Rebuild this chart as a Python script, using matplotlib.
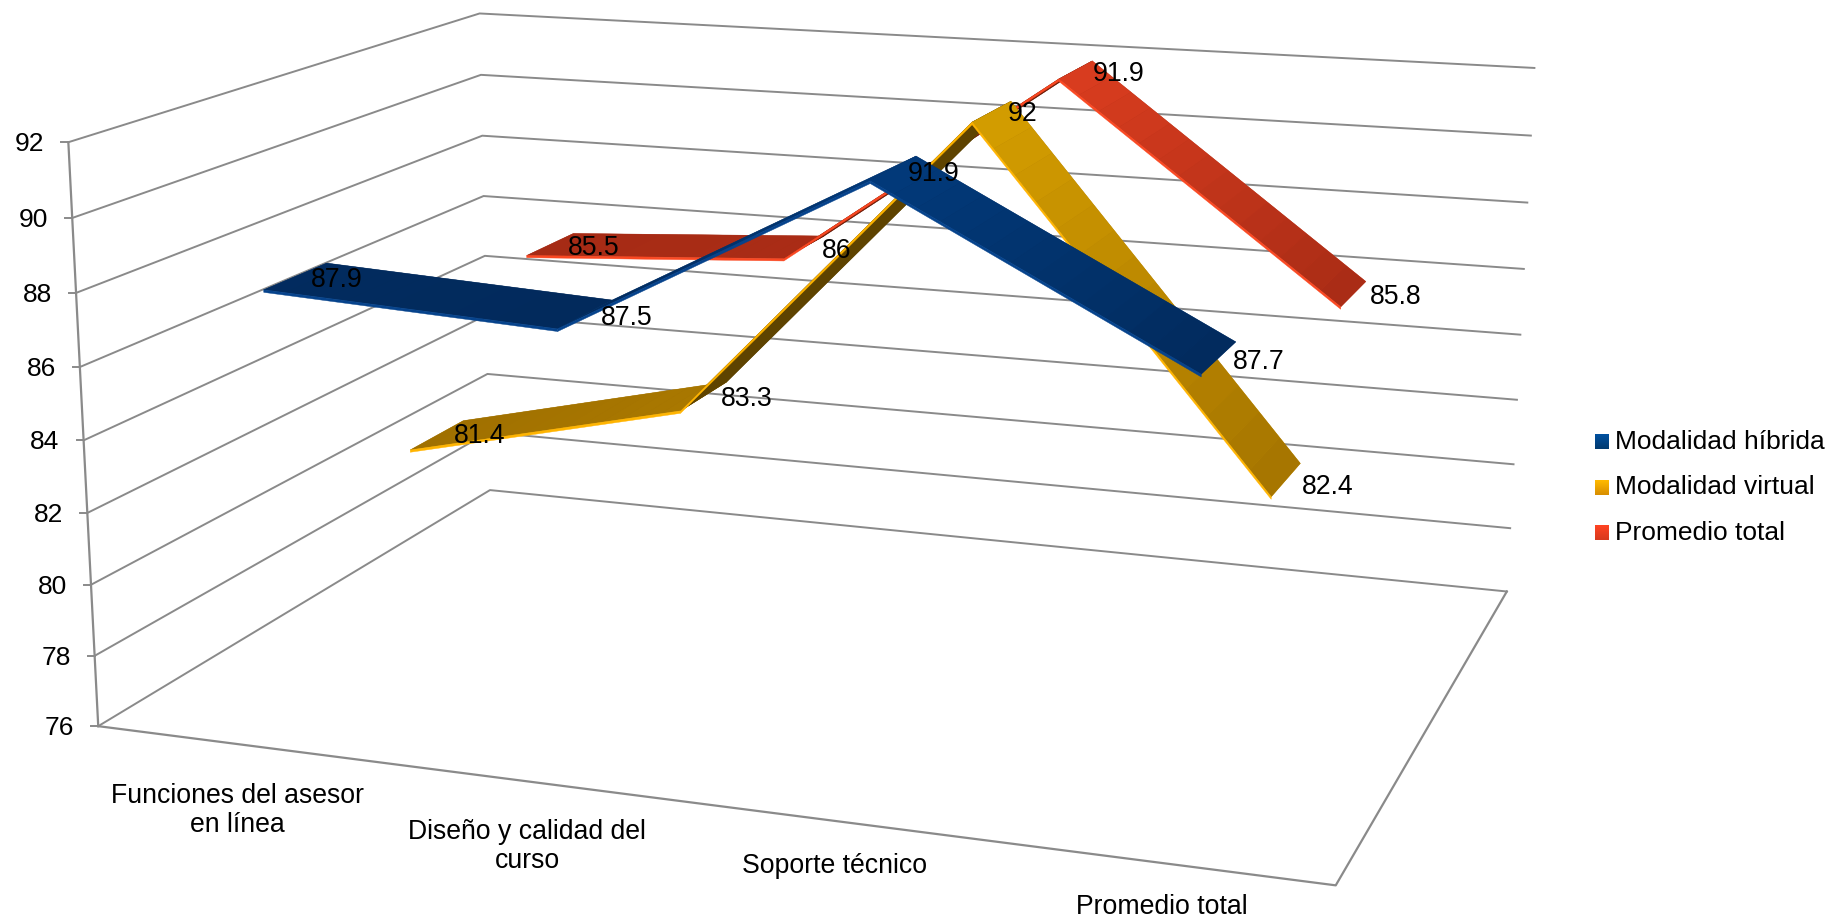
import numpy as np
import matplotlib
matplotlib.use("Agg")
import matplotlib.pyplot as plt
from matplotlib.collections import PolyCollection
from matplotlib.colors import LinearSegmentedColormap, to_rgb

plt.rcParams['font.family'] = ['Liberation Sans', 'DejaVu Sans']

categories = ["Funciones del asesor\nen línea", "Diseño y calidad del\ncurso", "Soporte técnico", "Promedio total"]
series_names = ["Modalidad híbrida", "Modalidad virtual", "Promedio total"]
hibrida = [87.9, 87.5, 91.9, 87.7]
virtual = [81.4, 83.3, 92, 82.4]
promedio = [85.5, 86, 91.9, 85.8]
y_ticks = [76, 78, 80, 82, 84, 86, 88, 90, 92]

# colours: low end and high end of the top face, front edge, underside
blue = ("#022a5c", "#023a7a", "#06438c", "#001f45")
yellow = ("#a07000", "#d49d00", "#ffb400", "#5e4300")
red = ("#a62b15", "#da3d1f", "#fa4822", "#6e1c08")
GRID = "#8a8a8a"
ymin, ymax = y_ticks[0], y_ticks[-1]

# box corners in pixels, used to fit the 3d camera
corner_world = [(0,0,0),(0,0,1),(0,1,0),(0,1,1),(1,1,0),(1,1,1),(1,0,0)]
corner_px = [(99,726),(67.3,142.7),(489,490),(480.8,13.3),(1507,592),(1534,67.7),(1336,885)]

def fit_camera():
    rows, rhs = [], []
    for (X,Y,Z),(u,v) in zip(corner_world, corner_px):
        rows.append([X,Y,Z,1,0,0,0,0,-u*X,-u*Y,-u*Z]); rhs.append(u)
        rows.append([0,0,0,0,X,Y,Z,1,-v*X,-v*Y,-v*Z]); rhs.append(v)
    p = np.linalg.lstsq(np.array(rows,float), np.array(rhs,float), rcond=None)[0]
    return np.append(p,1).reshape(3,4)

P = fit_camera()

def project(cat, depth, value):
    # cat in category units (0.5 = middle of first slot), depth 0..1, value on the y scale
    q = P @ np.array([cat/len(categories), depth, (value-ymin)/(ymax-ymin), 1.0])
    return q[0]/q[2], q[1]/q[2]

fig = plt.figure(figsize=(18.29,9.18), dpi=100)
ax = fig.add_axes([0,0,1,1])

# walls and floor
ncat = len(categories)
for t in y_ticks:
    wall = [project(0,0,t), project(0,1,t), project(ncat,1,t)]
    ax.plot(*zip(*wall), color=GRID, lw=1.4, zorder=1)
    x0, y0 = project(0,0,t)
    ax.plot([x0-7,x0], [y0,y0], color=GRID, lw=1.4, zorder=1)
    ax.text(x0-24, y0+2, str(t), ha='right', va='center', fontsize=19, zorder=50)
ax.plot(*zip(project(0,0,ymin), project(0,0,ymax)), color=GRID, lw=1.6, zorder=1)
floor = [project(0,0,ymin), project(ncat,0,ymin), project(ncat,1,ymin)]
ax.plot(*zip(*floor), color=GRID, lw=1.6, zorder=1)

# ribbons, back series first so the front ones paint over them
halfwidth = 0.0715
edge = 0.07
slices = 14
z = 2

def mix(c0, c1, t):
    a, b = np.array(to_rgb(c0)), np.array(to_rgb(c1))
    return tuple(a + (b-a)*t)

def draw_ribbon(values, slot, colors):
    global z
    low, high, front, under = colors
    cen = (slot+0.5)/3
    d0, d1 = cen-halfwidth, cen+halfwidth
    vmin, vmax = min(values), max(values)
    for i in range(len(values)-1):
        v0, v1 = values[i], values[i+1]
        c0, c1 = i+0.5, i+1.5
        a = np.array(project(c0,d0,v0)); b = np.array(project(c1,d0,v1)); c = np.array(project(c0,d1,v0))
        flipped = (b-a)[0]*(c-a)[1] - (b-a)[1]*(c-a)[0] > 0
        polys, cols = [], []
        ss = np.linspace(0, 1, slices+1)
        for s0, s1 in zip(ss[:-1], ss[1:]):
            va, vb = v0+(v1-v0)*s0, v0+(v1-v0)*s1
            ca, cb = c0+(c1-c0)*s0, c0+(c1-c0)*s1
            polys.append([project(ca,d0,va), project(cb,d0,vb), project(cb,d1,vb), project(ca,d1,va)])
            if flipped:
                cols.append(to_rgb(under))
            else:
                cols.append(mix(low, high, ((va+vb)/2-vmin)/(vmax-vmin)))
        # one whole quad underneath so the slice joins do not show
        whole = [project(c0,d0,v0), project(c1,d0,v1), project(c1,d1,v1), project(c0,d1,v0)]
        ax.fill(*zip(*whole), color=cols[len(cols)//2], lw=0.3, zorder=z)
        z += 1
        ax.add_collection(PolyCollection(polys, facecolors=cols, edgecolors='none', zorder=z))
        z += 1
        strip = [project(c0,d0,v0), project(c1,d0,v1), project(c1,d0,v1-edge), project(c0,d0,v0-edge)]
        ax.fill(*zip(*strip), color=front, lw=0.3, zorder=z)
        z += 1

draw_ribbon(promedio, 2, red)
draw_ribbon(virtual, 1, yellow)
draw_ribbon(hibrida, 0, blue)

# data labels sit just past the back corner of each point
nudge_hibrida = [(10,17), (15,18), (18,17.5), (23,20.5)]
nudge_virtual = [(16,15), (20,17.5), (12,13), (27.5,24)]
nudge_promedio = [(20,15), (13,15), (26.5,13), (29.5,15)]
for values, slot, nudges in [(hibrida,0,nudge_hibrida), (virtual,1,nudge_virtual), (promedio,2,nudge_promedio)]:
    for i, v in enumerate(values):
        x, y = project(i+0.5, (slot+0.5)/3+halfwidth, v)
        ax.text(x+nudges[i][0], y+nudges[i][1], str(v), ha='center', va='center', fontsize=19.2, zorder=50)

# category labels under the front edge
cat_nudge = [(0,66), (0,65), (-1,45), (-2,44)]
for i, name in enumerate(categories):
    x, y = project(i+0.5, 0, ymin)
    ax.text(x+cat_nudge[i][0], y+cat_nudge[i][1], name, ha='center', va='center', fontsize=19.2,
            linespacing=1.15, zorder=50)

# legend with the little gradient swatches
swatches = [("#00509f","#003a70"), ("#ffb900","#d88f00"), ("#ff4423","#d83a1e")]
legend_y = [442, 487.5, 533]
for name, (top, bottom), ly in zip(series_names, swatches, legend_y):
    cmap = LinearSegmentedColormap.from_list("sw", [top, bottom])
    ax.imshow(np.linspace(0,1,16).reshape(-1,1), cmap=cmap, aspect='auto',
              extent=(1595, 1609, ly+7.5, ly-7.5), zorder=5)
    ax.text(1615, ly, name, ha='left', va='center', fontsize=19, zorder=50)

ax.set_xlim(0,1829)
ax.set_ylim(918,0)
ax.axis('off')
fig.savefig('out.png', dpi=100)
